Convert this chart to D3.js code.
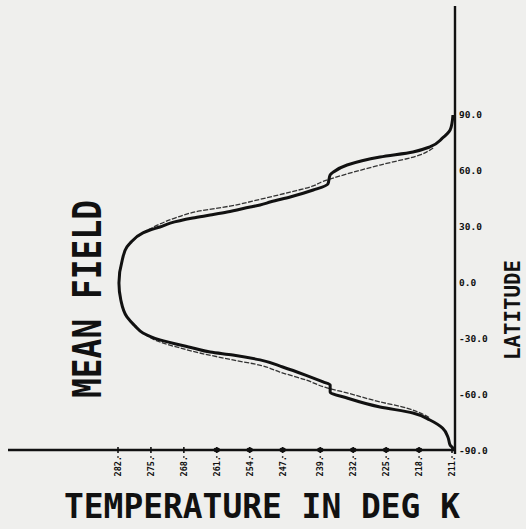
<!DOCTYPE html>
<html><head><meta charset="utf-8">
<script src="https://cdn.jsdelivr.net/npm/d3@7"></script>
<style>
html,body{margin:0;padding:0;background:#efefed;}
svg{display:block;}
</style></head>
<body>
<svg id="chart" width="526" height="529"></svg>
<script>
// ---- data ----
const tempTicks = [282, 275, 268, 261, 254, 247, 239, 232, 225, 218, 211];
const tempTickLabels = ["282.", "275.", "268.", "261.", "254.", "247.", "239.", "232.", "225.", "218.", "211."];
const latTicks = [90, 60, 30, 0, -30, -60, -90];
const latTickLabels = ["90.0", "60.0", "30.0", "0.0", "-30.0", "-60.0", "-90.0"];

// heavy curve (latitude, temperature K)
const latThick  = [90, 85.7, 82.0, 77.7, 72.9, 70.2, 67.5, 63.2, 59.5, 57.9, 53.0, 49.8, 46.1, 43.5, 41.8, 40.7, 38.0, 36.4, 34.8, 32.1, 30.0, 28.4, 26.8, 21.4, 19.3, 12.3, 0, -9.1, -18.2, -23.0, -26.8, -30.5, -34.8, -37.0, -38.6, -41.2, -45.0, -49.5, -53.0, -54.6, -58.4, -61.6, -66.4, -69.6, -73.4, -77.7, -83.0, -86.8, -88.4, -90];
const tempThick = [210.8, 211.0, 211.4, 213.0, 215.7, 219.3, 226.3, 233.3, 236.2, 236.9, 237.4, 240.5, 245.4, 249.5, 251.8, 253.9, 258.8, 262.4, 266.1, 270.9, 273.1, 275.2, 276.7, 279.4, 280.1, 281.1, 281.8, 281.4, 280.1, 278.4, 276.7, 273.1, 266.1, 262.4, 257.6, 251.8, 247.0, 242.0, 238.4, 236.9, 236.9, 233.3, 226.3, 219.3, 215.7, 213.0, 211.8, 211.4, 210.8, 210.6];

// light dashed curve
const latThin  = [72.3, 71.2, 68.6, 63.2, 56.2, 54.5, 52.0, 48.7, 44.8, 41.2, 38.6, 34.8, 31.6, 26.8, 19.3, 12.3, 0, -9.1, -18.2, -26.8, -31.6, -34.8, -37.5, -41.2, -44.2, -47.7, -52.0, -56.2, -58.9, -63.7, -67.0, -69.6, -72.3];
const tempThin = [215.0, 215.7, 217.8, 226.3, 236.3, 238.4, 240.5, 245.4, 251.8, 258.2, 264.6, 269.9, 273.1, 276.7, 280.1, 281.1, 281.8, 281.4, 280.1, 276.7, 273.1, 268.8, 264.6, 257.6, 251.5, 247.6, 242.0, 237.6, 233.3, 226.3, 220.6, 217.8, 215.7];

// ---- drawing ----
const svg = d3.select("#chart");
const W = 526, H = 529;
svg.append("rect").attr("width", W).attr("height", H).attr("fill", "#efefed");

const x = d3.scaleLinear().domain([282, 211]).range([118, 452]);
const y = d3.scaleLinear().domain([90, -90]).range([115, 451]);

const axisY = 450;   // horizontal axis position
const axisX = 455;   // vertical axis position

// axes lines
svg.append("line").attr("x1", 8).attr("x2", axisX).attr("y1", axisY).attr("y2", axisY)
  .attr("stroke", "#111").attr("stroke-width", 2.6);
svg.append("line").attr("x1", axisX).attr("x2", axisX).attr("y1", 6).attr("y2", axisY + 4)
  .attr("stroke", "#111").attr("stroke-width", 2.4);

// x ticks
const xt = svg.append("g");
tempTicks.forEach((t, i) => {
  const px = x(t);
  xt.append("line").attr("x1", px).attr("x2", px).attr("y1", axisY - 3).attr("y2", axisY + 3)
    .attr("stroke", "#111").attr("stroke-width", 1.6);
  if (i >= 3 && i <= 9) {
    xt.append("ellipse").attr("cx", px).attr("cy", axisY).attr("rx", 3.2).attr("ry", 2.4).attr("fill", "#111");
  }
  xt.append("circle").attr("cx", px).attr("cy", axisY + 7).attr("r", 0.9).attr("fill", "#333");
  xt.append("text")
    .attr("transform", `translate(${px},${axisY + 6}) rotate(-90)`)
    .attr("text-anchor", "end")
    .attr("dy", "0.35em")
    .attr("font-family", "DejaVu Sans Mono")
    .attr("font-weight", "bold")
    .attr("font-size", 8.5)
    .attr("fill", "#111")
    .text(tempTickLabels[i]);
});

// y tick labels
const yt = svg.append("g");
latTicks.forEach((l, i) => {
  yt.append("text")
    .attr("x", 459).attr("y", y(l)).attr("dy", "0.35em")
    .attr("text-anchor", "start")
    .attr("font-family", "DejaVu Sans Mono")
    .attr("font-weight", "bold")
    .attr("font-size", 9.5)
    .attr("fill", "#111")
    .text(latTickLabels[i]);
});

// curves
const line = d3.line().x(d => x(d[1])).y(d => y(d[0])).curve(d3.curveMonotoneY);
const thinData = latThin.map((l, i) => [l, tempThin[i]]);
const thickData = latThick.map((l, i) => [l, tempThick[i]]);

svg.append("path").datum(thinData).attr("d", line)
  .attr("fill", "none").attr("stroke", "#333").attr("stroke-width", 1.3)
  .attr("stroke-dasharray", "5,1.5");
svg.append("path").datum(thickData).attr("d", line)
  .attr("fill", "none").attr("stroke", "#111").attr("stroke-width", 3)
  .attr("stroke-linejoin", "round");

// titles
const font = "DejaVu Sans Mono";
svg.append("text")
  .attr("transform", "translate(101,299) rotate(-90)")
  .attr("text-anchor", "middle")
  .attr("font-family", font).attr("font-weight", "bold").attr("font-size", 39).attr("fill", "#111")
  .attr("textLength", 198).attr("lengthAdjust", "spacingAndGlyphs")
  .text("MEAN FIELD");

svg.append("text")
  .attr("transform", "translate(520,310) rotate(-90)")
  .attr("text-anchor", "middle")
  .attr("font-family", font).attr("font-weight", "bold").attr("font-size", 20.5).attr("fill", "#111")
  .attr("textLength", 100).attr("lengthAdjust", "spacingAndGlyphs")
  .text("LATITUDE");

svg.append("text")
  .attr("x", 64).attr("y", 518)
  .attr("text-anchor", "start")
  .attr("font-family", font).attr("font-weight", "bold").attr("font-size", 34.5).attr("fill", "#111")
  .attr("textLength", 396).attr("lengthAdjust", "spacingAndGlyphs")
  .text("TEMPERATURE IN DEG K");
</script>
</body></html>
